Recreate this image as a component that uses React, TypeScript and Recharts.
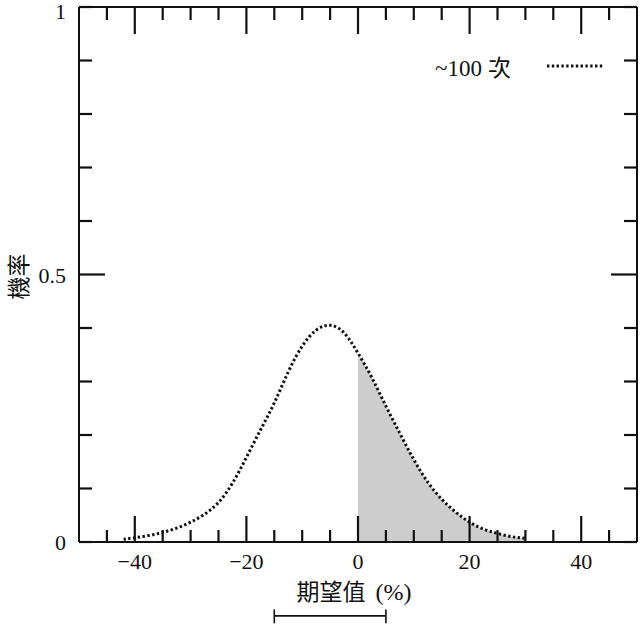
import React from 'react';
import { ComposedChart, Line, Area, XAxis, YAxis, ReferenceLine, Legend } from 'recharts';

// ---- data ----
const xValues = [-42, -40, -37.5, -35, -32.5, -30, -27.5, -25, -22.5, -20, -17.5, -15, -12.5, -10, -7.5, -5, -2.5, 0, 2.5, 5, 7.5, 10, 12.5, 15, 17.5, 20, 22.5, 25, 27.5, 30];
const probValues = [0.005, 0.008, 0.012, 0.018, 0.026, 0.037, 0.052, 0.074, 0.110, 0.158, 0.209, 0.260, 0.318, 0.366, 0.396, 0.405, 0.391, 0.353, 0.307, 0.254, 0.203, 0.154, 0.112, 0.080, 0.056, 0.037, 0.024, 0.016, 0.010, 0.007];
const shadeFrom = 0;

const xTicks = [-45, -40, -35, -30, -25, -20, -15, -10, -5, 0, 5, 10, 15, 20, 25, 30, 35, 40, 45];
const xMajor = [-40, -20, 0, 20, 40];
const yTicks = [0, 0.1, 0.2, 0.3, 0.4, 0.5, 0.6, 0.7, 0.8, 0.9, 1];
const yLabels: Record<string, string> = { '0': '0', '0.5': '0.5', '1': '1' };
const yMajor = [0.5];

const seriesName = '~100 次';
const xTitle = '期望值';
const xUnit = '(%)';
const yTitle = '機率';

// spread indicator below the axis (mean ± one spread)
const spreadLow = -15;
const spreadHigh = 5;
const spreadY = -0.138;
const capTop = -0.126;
const capBottom = -0.152;

const data = xValues.map((x, i) => ({
  x,
  p: probValues[i],
  shade: x >= shadeFrom ? probValues[i] : null,
}));

const SERIF = '"Liberation Serif", "Times New Roman", serif';
const CJK = '"Noto Sans CJK TC", "Noto Sans CJK SC", sans-serif';
const INK = '#111';

const fmtX = (v: number) => (v < 0 ? '\u2212' + Math.abs(v) : String(v));

const BottomTick = (props: any) => {
  const { x, y, payload } = props;
  const v = payload.value;
  const major = xMajor.includes(v);
  return (
    <g>
      <line x1={x} y1={y} x2={x} y2={y - (major ? 26 : 12)} stroke={INK} strokeWidth={2.2} />
      {major && (
        <text x={x} y={y + 27} textAnchor="middle" fontFamily={SERIF} fontSize={22} fill={INK}>
          {fmtX(v)}
        </text>
      )}
    </g>
  );
};

const TopTick = (props: any) => {
  const { x, y, payload } = props;
  const major = xMajor.includes(payload.value);
  return <line x1={x} y1={y} x2={x} y2={y + (major ? 27 : 13)} stroke={INK} strokeWidth={2.2} />;
};

const LeftTick = (props: any) => {
  const { x, y, payload } = props;
  const v = payload.value;
  const major = yMajor.includes(v);
  const lab = yLabels[String(v)];
  return (
    <g>
      <line x1={x} y1={y} x2={x + (major ? 26 : 13)} y2={y} stroke={INK} strokeWidth={2.2} />
      {lab && (
        <text x={x - 13} y={v === 1 ? y + 12 : y + 8} textAnchor="end" fontFamily={SERIF} fontSize={22} fill={INK}>
          {lab}
        </text>
      )}
    </g>
  );
};

const RightTick = (props: any) => {
  const { x, y, payload } = props;
  const major = yMajor.includes(payload.value);
  return <line x1={x} y1={y} x2={x - (major ? 26 : 13)} y2={y} stroke={INK} strokeWidth={2.2} />;
};

const YTitle = (props: any) => {
  const vb = props.viewBox || { x: 0, y: 7, width: 79, height: 535 };
  const cx = vb.x + 17;
  const cy = vb.y + vb.height / 2 + 2;
  return (
    <text
      x={cx}
      y={cy}
      transform={`rotate(-90, ${cx}, ${cy})`}
      textAnchor="middle"
      dominantBaseline="central"
      fontFamily={CJK}
      fontSize={23}
      fill={INK}
    >
      {yTitle}
    </text>
  );
};

const XTitle = (props: any) => {
  const vb = props.viewBox || { x: 79, y: 542, width: 558, height: 82 };
  const cx = vb.x + vb.width / 2 - 4;
  return (
    <text x={cx} y={vb.y + 58} textAnchor="middle" fill={INK}>
      <tspan fontFamily={CJK} fontSize={23}>{xTitle}</tspan>
      <tspan dx={10} fontFamily={SERIF} fontSize={24}>{xUnit}</tspan>
    </text>
  );
};

const LegendBox = () => (
  <svg width={200} height={40} style={{ display: 'block', overflow: 'visible' }}>
    <text x={5} y={31} fill={INK}>
      <tspan fontFamily={SERIF} fontSize={23}>~100</tspan>
      <tspan dx={6} fontFamily={CJK} fontSize={23}>次</tspan>
    </text>
    <line x1={117} y1={21} x2={173} y2={21} stroke={INK} strokeWidth={3} strokeDasharray="2.4 2.4" />
  </svg>
);

export default function App() {
  return (
    <div style={{ position: 'absolute', left: 0, top: 0, width: 642, height: 624, background: '#fff' }}>
      <ComposedChart width={642} height={624} data={data} margin={{ top: 6, right: 4, bottom: 0, left: 0 }}>
        <XAxis
          xAxisId="b"
          dataKey="x"
          type="number"
          domain={[-50, 50]}
          allowDataOverflow
          ticks={xTicks}
          interval={0}
          height={82}
          tickSize={0}
          tickMargin={0}
          tickLine={false}
          axisLine={{ stroke: INK, strokeWidth: 2 }}
          tick={<BottomTick />}
          label={<XTitle />}
        />
        <XAxis
          xAxisId="t"
          orientation="top"
          type="number"
          dataKey="x"
          domain={[-50, 50]}
          allowDataOverflow
          ticks={xTicks}
          interval={0}
          height={1}
          tickSize={0}
          tickMargin={0}
          tickLine={false}
          axisLine={{ stroke: INK, strokeWidth: 2 }}
          tick={<TopTick />}
        />
        <YAxis
          yAxisId="l"
          type="number"
          domain={[0, 1]}
          allowDataOverflow
          ticks={yTicks}
          interval={0}
          width={79}
          tickSize={0}
          tickMargin={0}
          tickLine={false}
          axisLine={{ stroke: INK, strokeWidth: 2 }}
          tick={<LeftTick />}
          label={<YTitle />}
        />
        <YAxis
          yAxisId="r"
          orientation="right"
          type="number"
          domain={[0, 1]}
          allowDataOverflow
          ticks={yTicks}
          interval={0}
          width={1}
          tickSize={0}
          tickMargin={0}
          tickLine={false}
          axisLine={{ stroke: INK, strokeWidth: 2 }}
          tick={<RightTick />}
        />
        <Area
          xAxisId="b"
          yAxisId="l"
          type="natural"
          dataKey="shade"
          stroke="none"
          fill="#cdcdcd"
          fillOpacity={1}
          isAnimationActive={false}
          legendType="none"
        />
        <Line
          xAxisId="b"
          yAxisId="l"
          type="natural"
          dataKey="p"
          name={seriesName}
          stroke={INK}
          strokeWidth={3}
          strokeDasharray="2.4 2.4"
          dot={false}
          activeDot={false}
          isAnimationActive={false}
        />
        <Line
          xAxisId="t"
          yAxisId="r"
          dataKey="p"
          stroke="none"
          dot={false}
          activeDot={false}
          legendType="none"
          isAnimationActive={false}
        />
        <ReferenceLine
          xAxisId="b"
          yAxisId="l"
          ifOverflow="visible"
          segment={[{ x: spreadLow, y: spreadY }, { x: spreadHigh, y: spreadY }]}
          stroke={INK}
          strokeWidth={1.6}
        />
        <ReferenceLine
          xAxisId="b"
          yAxisId="l"
          ifOverflow="visible"
          segment={[{ x: spreadLow, y: capTop }, { x: spreadLow, y: capBottom }]}
          stroke={INK}
          strokeWidth={1.6}
        />
        <ReferenceLine
          xAxisId="b"
          yAxisId="l"
          ifOverflow="visible"
          segment={[{ x: spreadHigh, y: capTop }, { x: spreadHigh, y: capBottom }]}
          stroke={INK}
          strokeWidth={1.6}
        />
        <Legend
          layout="horizontal"
          verticalAlign="middle"
          align="center"
          wrapperStyle={{ left: 430, top: 45, width: 200, height: 40 }}
          content={() => <LegendBox />}
        />
      </ComposedChart>
    </div>
  );
}
